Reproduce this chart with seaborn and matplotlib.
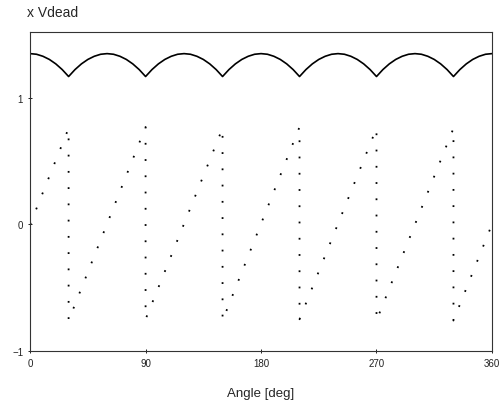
import matplotlib
matplotlib.use("Agg")
import matplotlib.pyplot as plt
import seaborn as sns
import pandas as pd

# Rectified DC voltage (solid) in units of Vdead, read every 5 deg
angle_dc = list(range(0, 361, 5))
v_dc = [1.35, 1.345, 1.329, 1.304, 1.269, 1.224, 1.169, 1.224, 1.269, 1.304, 1.329, 1.345,
        1.35, 1.345, 1.329, 1.304, 1.269, 1.224, 1.169, 1.224, 1.269, 1.304, 1.329, 1.345,
        1.35, 1.345, 1.329, 1.304, 1.269, 1.224, 1.169, 1.224, 1.269, 1.304, 1.329, 1.345,
        1.35, 1.345, 1.329, 1.304, 1.269, 1.224, 1.169, 1.224, 1.269, 1.304, 1.329, 1.345,
        1.35, 1.345, 1.329, 1.304, 1.269, 1.224, 1.169, 1.224, 1.269, 1.304, 1.329, 1.345,
        1.35, 1.345, 1.329, 1.304, 1.269, 1.224, 1.169, 1.224, 1.269, 1.304, 1.329, 1.345,
        1.35]

# Ripple sawtooth (dotted)
angle_saw = [0, 30, 30, 90, 90, 150, 150, 210, 210, 270, 270, 330, 330, 360]
v_saw = [0.0, 0.76, -0.76, 0.77, -0.75, 0.76, -0.76, 0.77, -0.75, 0.76, -0.76, 0.76, -0.76, 0.0]

xticks = [0, 90, 180, 270, 360]
yticks = [-1, 0, 1]

df_dc = pd.DataFrame({"angle": angle_dc, "v": v_dc})
df_saw = pd.DataFrame({"angle": angle_saw, "v": v_saw})

sns.set_style("ticks")
plt.rcParams["font.family"] = ["Liberation Sans", "DejaVu Sans"]

fig = plt.figure(figsize=(5.02, 4.14), dpi=100)
ax = fig.add_axes([0.06, 0.15, 0.92, 0.77])

sns.lineplot(data=df_dc, x="angle", y="v", ax=ax, color="black", linewidth=1.2,
             sort=False, estimator=None)
sns.lineplot(data=df_saw, x="angle", y="v", ax=ax, color="black", linewidth=1.3,
             sort=False, estimator=None, linestyle=(0, (1, 8)))

ax.set_xlim(0, 360)
ax.set_ylim(-1, 1.52)
ax.set_xticks(xticks)
ax.set_yticks(yticks)
ax.tick_params(labelsize=7, length=3, width=0.7, direction="inout", colors="#222222")
ax.set_xlabel("Angle [deg]", fontsize=9.5, labelpad=14)
ax.set_ylabel("")
for s in ax.spines.values():
    s.set_visible(True)
    s.set_linewidth(0.8)
    s.set_color("#333333")

fig.text(0.054, 0.968, "x Vdead", fontsize=10, va="center", ha="left")

fig.savefig("out.png", dpi=100)
